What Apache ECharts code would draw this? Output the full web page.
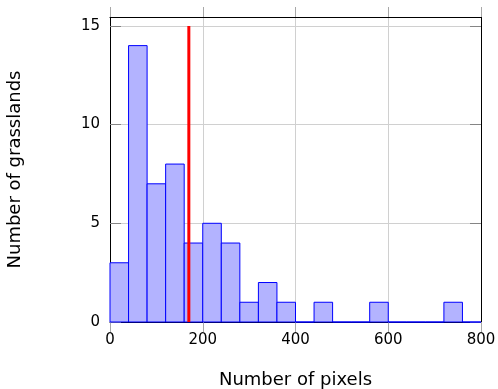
<!DOCTYPE html>
<html>
<head>
<meta charset="utf-8">
<script src="https://cdn.jsdelivr.net/npm/echarts@6/dist/echarts.min.js"></script>
<style>
  html, body { margin: 0; padding: 0; background: #fff; }
  #chart { width: 498px; height: 389px; }
</style>
</head>
<body>
<div id="chart"></div>
<script>
  // histogram bins (width 40) and counts
  const binStarts = [0, 40, 80, 120, 160, 200, 240, 280, 320, 360, 400, 440, 480, 520, 560, 600, 640, 680, 720, 760]
  const binWidth = 40
  const counts = [3, 14, 7, 8, 4, 5, 4, 1, 2, 1, 0, 1, 0, 0, 1, 0, 0, 0, 1, 0]
  const xTicks = [0, 200, 400, 600, 800]
  const yTicks = [0, 5, 10, 15]
  const markerX = 170

  const font = 'DejaVu Sans'
  const chart = echarts.init(document.getElementById('chart'))

  const barData = binStarts.map((s, i) => [s, s + binWidth, counts[i]])

  function gridLine () {
    return { show: true, lineStyle: { color: '#d0d0d0', width: 1 } }
  }
  function axisLine () {
    return { show: true, onZero: false, lineStyle: { color: '#000', width: 1 } }
  }
  function xTick () {
    return { show: true, inside: false, length: 10, customValues: xTicks.slice(), lineStyle: { color: '#a8a8a8' } }
  }
  function yTick () {
    return { show: true, inside: true, length: 11, customValues: yTicks.slice(), lineStyle: { color: '#858585' } }
  }

  const option = {
    animation: false,
    grid: { left: 110, right: 17, top: 17, bottom: 67, containLabel: false, outerBoundsMode: 'none' },
    xAxis: [
      {
        type: 'value', min: 0, max: 800, interval: 200,
        name: 'Number of pixels', nameLocation: 'middle', nameGap: 49,
        nameTextStyle: { fontFamily: font, fontSize: 18, color: '#000' },
        axisLine: axisLine(),
        axisTick: xTick(),
        axisLabel: { fontFamily: font, fontSize: 15, color: '#000', margin: 11, customValues: xTicks.slice() },
        splitLine: gridLine()
      },
      {
        type: 'value', min: 0, max: 800, interval: 200, position: 'top',
        axisLine: axisLine(),
        axisTick: xTick(),
        axisLabel: { show: false },
        splitLine: { show: false }
      }
    ],
    yAxis: [
      {
        type: 'value', min: 0, max: 15.45, interval: 5,
        name: 'Number of grasslands', nameLocation: 'middle', nameGap: 86,
        nameTextStyle: { fontFamily: font, fontSize: 18, color: '#000' },
        axisLine: axisLine(),
        axisTick: yTick(),
        axisLabel: { fontFamily: font, fontSize: 15, color: '#000', margin: 10, customValues: yTicks.slice() },
        splitLine: gridLine()
      },
      {
        type: 'value', min: 0, max: 15.45, interval: 5, position: 'right',
        axisLine: axisLine(),
        axisTick: yTick(),
        axisLabel: { show: false },
        splitLine: { show: false }
      }
    ],
    series: [
      {
        type: 'custom',
        xAxisIndex: 0,
        yAxisIndex: 0,
        data: barData,
        encode: { x: [0, 1], y: 2 },
        renderItem: function (params, api) {
          const p0 = api.coord([api.value(0), 0])
          const p1 = api.coord([api.value(1), api.value(2)])
          return {
            type: 'rect',
            shape: { x: p0[0], y: p1[1], width: p1[0] - p0[0], height: p0[1] - p1[1] },
            style: { fill: '#b3b3ff', stroke: '#0000ff', lineWidth: 1 }
          }
        }
      },
      {
        type: 'line',
        data: [[markerX, 0], [markerX, 15]],
        symbol: 'none',
        lineStyle: { color: '#ff0000', width: 3 },
        z: 5
      }
    ]
  }

  chart.setOption(option)
</script>
</body>
</html>
